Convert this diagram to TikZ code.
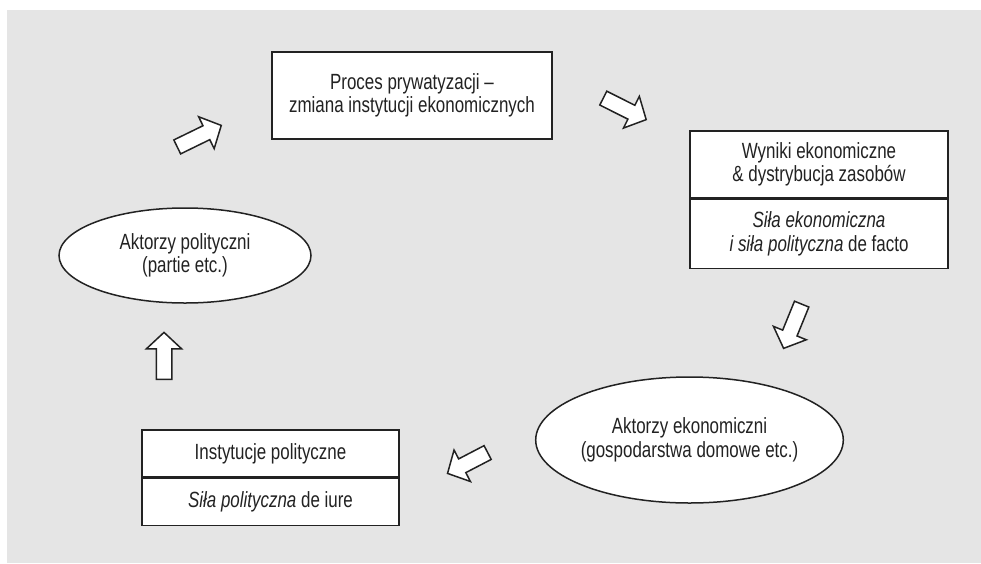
\documentclass[tikz,border=0pt]{standalone}
\usepackage{fontspec}
\setmainfont{Liberation Sans}[FakeStretch=0.77]
\usepackage{tikz}
\usetikzlibrary{arrows.meta,positioning,shapes.geometric,shapes.arrows}
\definecolor{PrivGray}{HTML}{E5E5E5}
\definecolor{PrivLine}{HTML}{222222}

\tikzset{
  box/.style={draw=PrivLine, line width=0.75pt, fill=white, align=center, inner sep=2pt,
    font=\fontsize{11}{11.8}\selectfont, text=PrivLine},
  actor/.style={ellipse, draw=PrivLine, line width=0.75pt, fill=white, align=center, inner sep=0pt,
    font=\fontsize{11}{11.8}\selectfont, text=PrivLine},
  blockarrow/.style={single arrow, draw=PrivLine, line width=0.75pt, fill=white, inner sep=3.5pt,
    single arrow head extend=5pt, single arrow tip angle=94}
}

\begin{document}
\begin{tikzpicture}[x=0.5pt, y=-0.5pt]
\useasboundingbox (0,0) rectangle (981,563);
% Background
\fill[PrivGray] (7,10) rectangle (981,563);

% Boxes
\node[box, minimum width=140pt, minimum height=43.5pt] (proces) at (412,95.5)
  {Proces prywatyzacji --\\zmiana instytucji ekonomicznych};
\node[box, minimum width=129pt, minimum height=33.5pt] (wyniki) at (819,164.5)
  {Wyniki ekonomiczne\\\& dystrybucja zasobów};
\node[box, minimum width=129pt, minimum height=34.5pt, below=0pt of wyniki] (silaEko)
  {\textit{Siła ekonomiczna}\\\textit{i siła polityczna} de facto};
\node[box, minimum width=128.5pt, minimum height=23.5pt] (instytucje) at (270.5,453.5)
  {Instytucje polityczne};
\node[box, minimum width=128.5pt, minimum height=23.5pt, below=0pt of instytucje] (silaPol)
  {\textit{Siła polityczna} de iure};

% Actors
\node[actor, minimum width=149.5pt, minimum height=63pt] (aktEko) at (689.5,440)
  {Aktorzy ekonomiczni\\(gospodarstwa domowe etc.)};
\node[actor, minimum width=126pt, minimum height=47.5pt] (aktPol) at (185,255.5)
  {Aktorzy polityczni\\(partie etc.)};

% Block arrows between the stages
\foreach \n/\cx/\cy/\ang/\len in {
  1/196/137.75/26/24.5,
  2/621.5/107.25/-26.6/24,
  3/794/322.9/-112.2/23.9,
  4/470.8/461.3/207.5/22.6,
  5/164/359.5/90/23.5}
{
  \node[blockarrow, rotate=\ang, minimum height=\len pt] (arr\n) at (\cx,\cy) {};
}
\end{tikzpicture}
\end{document}
